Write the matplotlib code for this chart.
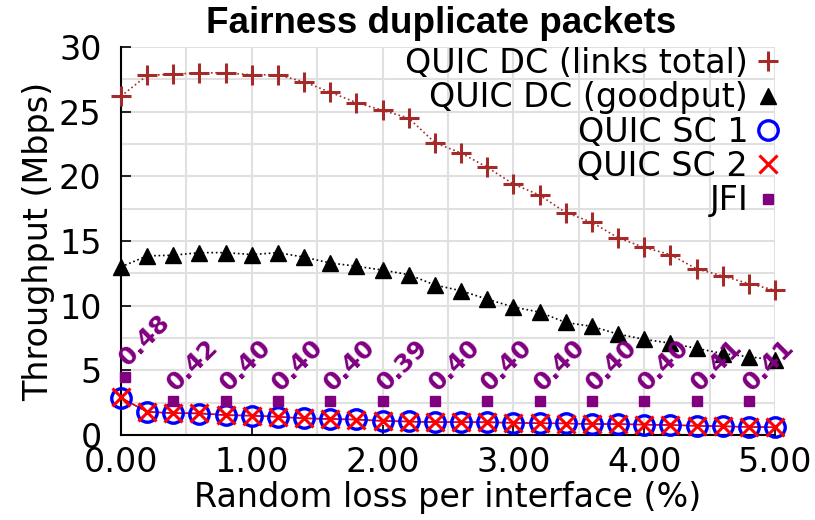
import numpy as np
import matplotlib
matplotlib.use("Agg")
import matplotlib.pyplot as plt

# random loss per interface (%)
loss = [0.0, 0.2, 0.4, 0.6, 0.8, 1.0, 1.2, 1.4, 1.6, 1.8, 2.0, 2.2, 2.4,
        2.6, 2.8, 3.0, 3.2, 3.4, 3.6, 3.8, 4.0, 4.2, 4.4, 4.6, 4.8, 5.0]

links_total = [26.2, 27.8, 27.9, 28.0, 28.0, 27.85, 27.85, 27.3, 26.5, 25.7, 25.1, 24.5, 22.6,
               21.8, 20.7, 19.4, 18.55, 17.2, 16.45, 15.25, 14.5, 13.95, 12.85, 12.3, 11.7, 11.2]
goodput = [13.0, 13.85, 13.9, 14.1, 14.1, 13.95, 14.1, 13.75, 13.3, 13.05, 12.75, 12.4, 11.6,
           11.15, 10.5, 9.9, 9.5, 8.7, 8.4, 7.8, 7.4, 7.1, 6.7, 6.3, 6.05, 5.8]
sc1 = [2.85, 1.8, 1.7, 1.65, 1.55, 1.5, 1.4, 1.3, 1.25, 1.2, 1.1, 1.05, 1.0,
       1.0, 1.0, 0.95, 0.9, 0.9, 0.85, 0.85, 0.8, 0.78, 0.7, 0.68, 0.62, 0.6]
sc2 = [2.9, 1.78, 1.68, 1.7, 1.52, 1.48, 1.42, 1.28, 1.22, 1.18, 1.08, 1.02, 1.0,
       0.98, 0.97, 0.93, 0.92, 0.88, 0.86, 0.83, 0.8, 0.76, 0.72, 0.66, 0.64, 0.58]

# JFI markers (every other loss value) and their labels
jfi_x = [0.03, 0.4, 0.8, 1.2, 1.6, 2.0, 2.4, 2.8, 3.2, 3.6, 4.0, 4.4, 4.8]
jfi_y = [4.5, 2.6, 2.6, 2.6, 2.6, 2.6, 2.6, 2.6, 2.6, 2.6, 2.6, 2.6, 2.6]
jfi_labels = ["0.48", "0.42", "0.40", "0.40", "0.40", "0.39", "0.40",
              "0.40", "0.40", "0.40", "0.40", "0.41", "0.41"]

plt.rcParams["font.family"] = "DejaVu Sans"
fs = 24

fig = plt.figure(figsize=(8.15, 5.2), dpi=100)
ax = fig.add_axes([121 / 815, 85 / 520, 654 / 815, 388 / 520])

brown = "#a52a2a"
purple = "#800080"

# lines
ax.plot(loss, links_total, ls=":", lw=1.2, color=brown, zorder=3)
ax.plot(loss, goodput, ls=":", lw=1.2, color="black", zorder=3)
ax.plot(loss, sc1, ls="-", lw=1.0, color="blue", zorder=3)
ax.plot(loss, sc2, ls="-", lw=1.0, color="red", zorder=3)

# markers
ax.plot(loss, links_total, ls="none", marker="+", ms=14, mew=2.2, color=brown,
        clip_on=False, zorder=4, label="QUIC DC (links total)")
ax.plot(loss, goodput, ls="none", marker="^", ms=12, color="black",
        clip_on=False, zorder=4, label="QUIC DC (goodput)")
ax.plot(loss, sc1, ls="none", marker="o", ms=14, mew=2.4, mfc="none", mec="blue",
        clip_on=False, zorder=4, label="QUIC SC 1")
ax.plot(loss, sc2, ls="none", marker="x", ms=13, mew=2.2, color="red",
        clip_on=False, zorder=5, label="QUIC SC 2")
ax.plot(jfi_x, jfi_y, ls="none", marker="s", ms=7, color=purple,
        clip_on=False, zorder=5, label="JFI")

for x, y, t in zip(jfi_x, jfi_y, jfi_labels):
    ax.annotate(t, (x, y), xytext=(2, 7), textcoords="offset points",
                ha="left", va="baseline", rotation=45, rotation_mode="anchor",
                fontsize=18, fontweight="bold", color=purple, zorder=6,
                annotation_clip=False)

ax.set_xlim(0, 5.0)
ax.set_ylim(0, 30)
ax.set_xticks([0, 1, 2, 3, 4, 5])
ax.set_xticklabels(["%.2f" % v for v in [0, 1, 2, 3, 4, 5]])
ax.set_yticks([0, 5, 10, 15, 20, 25, 30])
ax.set_xticks(np.arange(0.5, 5.0, 1.0), minor=True)
ax.set_yticks(np.arange(2.5, 30, 5.0), minor=True)
ax.tick_params(which="major", direction="in", length=7, width=1.2, labelsize=fs)
ax.tick_params(axis="x", pad=8)
ax.tick_params(axis="y", pad=14)
ax.tick_params(which="minor", length=0)
ax.grid(True, which="both", color="#e0e0e0", lw=1.5)
ax.set_axisbelow(True)

for s in ["top", "right"]:
    ax.spines[s].set_visible(False)
for s in ["left", "bottom"]:
    ax.spines[s].set_linewidth(1.5)

ax.set_xlabel("Random loss per interface (%)", fontsize=fs, labelpad=1)
ax.set_ylabel("Throughput (Mbps)", fontsize=fs, labelpad=3)
ax.set_title("Fairness duplicate packets", fontsize=26.5, fontweight="bold",
             family="Liberation Sans", pad=10, x=0.49)

ax.legend(loc="upper right", bbox_to_anchor=(1.01, 1.0), frameon=False, fontsize=fs,
          markerfirst=False, alignment="right", handlelength=0.8, handletextpad=0.2,
          labelspacing=0.04, borderaxespad=0, borderpad=0.0)

fig.savefig("out.png", dpi=100)
